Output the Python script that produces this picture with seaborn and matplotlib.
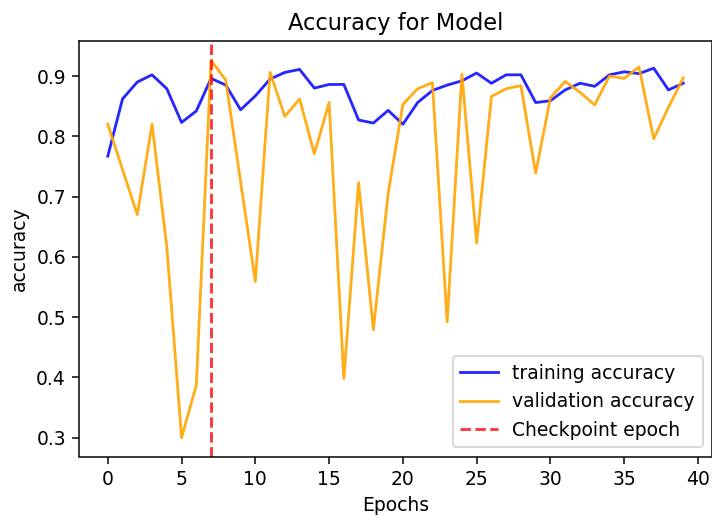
import matplotlib
matplotlib.use("Agg")
import matplotlib.pyplot as plt
import seaborn as sns
import pandas as pd

epochs = list(range(40))
train_acc = [0.767, 0.862, 0.890, 0.902, 0.879, 0.823, 0.842, 0.896, 0.885, 0.844,
             0.867, 0.895, 0.906, 0.911, 0.880, 0.886, 0.886, 0.827, 0.822, 0.843,
             0.820, 0.856, 0.876, 0.885, 0.892, 0.905, 0.888, 0.902, 0.902, 0.856,
             0.859, 0.877, 0.888, 0.883, 0.902, 0.907, 0.904, 0.913, 0.877, 0.888]
val_acc = [0.820, 0.745, 0.670, 0.820, 0.617, 0.300, 0.387, 0.926, 0.893, 0.725,
           0.559, 0.906, 0.833, 0.862, 0.771, 0.856, 0.398, 0.723, 0.479, 0.705,
           0.853, 0.879, 0.889, 0.492, 0.903, 0.623, 0.866, 0.879, 0.884, 0.739,
           0.864, 0.891, 0.873, 0.852, 0.900, 0.896, 0.915, 0.796, 0.848, 0.897]
checkpoint_epoch = 7

df = pd.DataFrame({"epoch": epochs, "train": train_acc, "val": val_acc})

DPI = 135
fig = plt.figure(figsize=(712 / DPI, 520 / DPI), dpi=DPI)
ax = fig.add_axes([79 / 712, (520 - 456.5) / 520, 633 / 712, (456.5 - 41.5) / 520])

sns.lineplot(data=df, x="epoch", y="train", ax=ax, color="blue", alpha=0.85,
             label="training accuracy")
sns.lineplot(data=df, x="epoch", y="val", ax=ax, color="orange", alpha=0.9,
             label="validation accuracy")
ax.axvline(checkpoint_epoch, color="red", linestyle="--", alpha=0.8,
           label="Checkpoint epoch")

ax.set_title("Accuracy for Model")
ax.set_xlabel("Epochs")
ax.set_ylabel("accuracy")
ax.set_xticks([0, 5, 10, 15, 20, 25, 30, 35, 40])
ax.set_yticks([0.3, 0.4, 0.5, 0.6, 0.7, 0.8, 0.9])
ax.legend(loc="lower right")

fig.savefig("out.png", dpi=DPI)
